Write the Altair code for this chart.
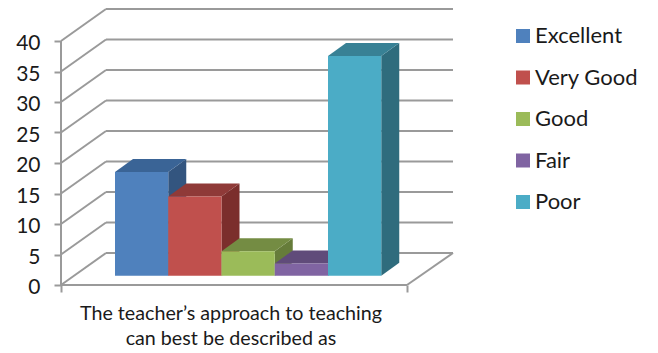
import altair as alt
import pandas as pd

categories = ["Excellent", "Very Good", "Good", "Fair", "Poor"]
values = [17, 13, 4, 2, 36]
front_colors = ["#4F81BD", "#C0504D", "#9BBB59", "#8064A2", "#4BACC6"]
top_colors = ["#3A6496", "#8F3A38", "#748C43", "#604B7A", "#388195"]
side_colors = ["#33557F", "#7B2E2C", "#667C3A", "#54426B", "#2F6C7D"]
y_ticks = [0, 5, 10, 15, 20, 25, 30, 35, 40]
x_title = ["The teacher\u2019s approach to teaching", "can best be described as"]

# oblique projection used to fake the 3D look
UNIT = 6.1
WALL_DX, WALL_DV = 45, 32 / UNIT
FLOOR_W = 346
BAR_X0, BAR_W = 54, 53.25
BAR_DX, BAR_DV = 18, 13 / UNIT
LIFT = 9.3 / UNIT
W, H = 392, 277
FONT = "Lato"
GRID = "#9A9A9A"

xs = alt.Scale(domain=[0, W], nice=False, zero=False)
ys = alt.Scale(domain=[0, H / UNIT], nice=False, zero=False)

front, top, side = [], [], []
for i, (c, v) in enumerate(zip(categories, values)):
    x0 = BAR_X0 + i * BAR_W
    x1 = x0 + BAR_W
    t = v + LIFT
    front.append(dict(cat=c, x0=x0, x1=x1, lo=LIFT, hi=t))
    for x, lo, hi in [(x0, t, t), (x0 + BAR_DX, t, t + BAR_DV), (x1, t, t + BAR_DV), (x1 + BAR_DX, t + BAR_DV, t + BAR_DV)]:
        top.append(dict(cat=c, x=x, lo=lo, hi=hi, col=top_colors[i]))
    for x, lo, hi in [(x1, LIFT, t), (x1 + BAR_DX, LIFT + BAR_DV, t + BAR_DV)]:
        side.append(dict(cat=c, x=x, lo=lo, hi=hi, col=side_colors[i]))

back = pd.DataFrame([dict(x=WALL_DX, x2=W, y=v + WALL_DV) for v in y_ticks])
slant = pd.DataFrame(
    [r for v in y_ticks for r in (dict(k=f"t{v}", x=0, y=v), dict(k=f"t{v}", x=WALL_DX, y=v + WALL_DV))]
    + [dict(k="floor", x=FLOOR_W, y=0), dict(k="floor", x=W, y=WALL_DV)]
)
floor = pd.DataFrame([dict(x=0, x2=FLOOR_W, y=0)])
wall = pd.DataFrame([dict(x=0, y=0, y2=40)])

axis_x = alt.Axis(values=[0, FLOOR_W], labels=False, domain=False, grid=False, tickSize=7, tickColor=GRID,
                  tickWidth=2, title=x_title, titleFont=FONT, titleFontSize=19.7, titleFontWeight="normal",
                  titleColor="#1a1a1a", titleX=169.5, titleY=34, titleLineHeight=25, titleBaseline="alphabetic")
axis_y = alt.Axis(values=y_ticks, domain=False, grid=False, tickSize=7, tickColor=GRID, tickWidth=2, title=None,
                  labelFont=FONT, labelFontSize=21, labelColor="#1a1a1a", labelPadding=14, labelOffset=2.5)

X = lambda f: alt.X(f, scale=xs, axis=axis_x)
Y = lambda f, **k: alt.Y(f, scale=ys, axis=axis_y, **k)

grid_back = alt.Chart(back).mark_rule(color=GRID, strokeWidth=2).encode(x=X("x:Q"), x2="x2:Q", y=Y("y:Q"))
grid_slant = alt.Chart(slant).mark_line(color=GRID, strokeWidth=2).encode(x=X("x:Q"), y=Y("y:Q"), detail="k:N")
grid_floor = alt.Chart(floor).mark_rule(color=GRID, strokeWidth=2).encode(x=X("x:Q"), x2="x2:Q", y=Y("y:Q"))
grid_wall = alt.Chart(wall).mark_rule(color=GRID, strokeWidth=2).encode(x=X("x:Q"), y=Y("y:Q"), y2="y2:Q")


def face(rows):
    return alt.Chart(pd.DataFrame(rows)).mark_area(interpolate="linear", opacity=1).encode(
        x=X("x:Q"),
        y=Y("lo:Q", stack=None),
        y2="hi:Q",
        color=alt.Color("col:N", scale=None),
        detail="cat:N",
    )


fronts = alt.Chart(pd.DataFrame(front)).mark_rect().encode(
    x=X("x0:Q"),
    x2="x1:Q",
    y=Y("lo:Q"),
    y2="hi:Q",
    color=alt.Color(
        "cat:N",
        scale=alt.Scale(domain=categories, range=front_colors),
        legend=alt.Legend(
            orient="none", legendX=451, legendY=17, title=None, symbolType="square", symbolSize=196,
            symbolStrokeWidth=0, labelFont=FONT, labelFontSize=22, labelColor="#1a1a1a",
            labelOffset=1, rowPadding=19.5, labelLimit=200,
        ),
    ),
)

chart = alt.layer(grid_back, grid_slant, grid_floor, grid_wall, face(side), face(top), fronts).resolve_scale(
    color="independent"
).properties(
    width=W, height=H,
    autosize=alt.AutoSizeParams(type="none"),
    padding={"left": 53, "top": 0, "right": 197, "bottom": 66},
    background="white",
).configure_view(stroke=None)

chart.save("out.html", embed_options={"renderer": "svg", "actions": False})
